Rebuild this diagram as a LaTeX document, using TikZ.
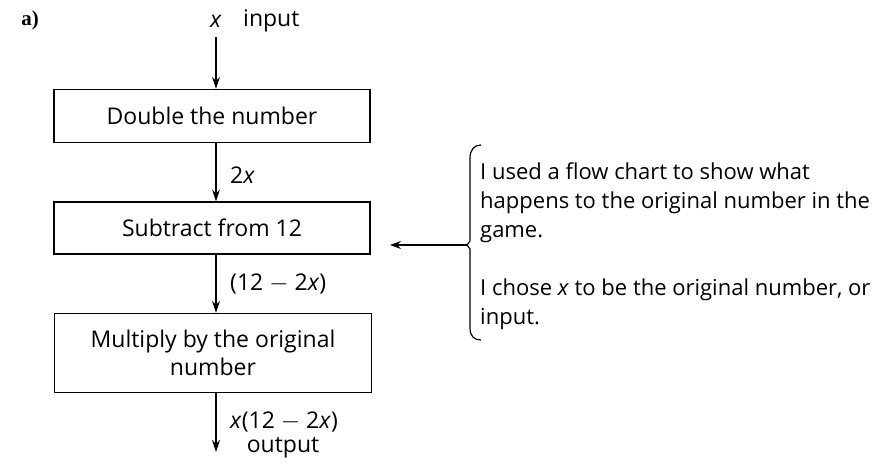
\documentclass[tikz,border=0pt]{standalone}
\usepackage{fontspec}
\setmainfont{Open Sans}
\newfontfamily\partfont{Liberation Serif}
\usetikzlibrary{arrows.meta}

\tikzset{
  stepbox/.style={draw, line width=1.3pt, inner sep=0pt, align=center,
    font=\fontsize{23}{28}\selectfont},
  flow/.style={line width=1.3pt, -{Stealth[length=12pt,width=8pt,inset=4pt]}},
  lbl/.style={inner sep=0pt, font=\fontsize{23}{25}\selectfont},
  note/.style={inner sep=0pt, align=left, font=\fontsize{22}{29}\selectfont},
}

\begin{document}
\begin{tikzpicture}[x=1pt,y=1pt,yscale=-1,xscale=1]
\useasboundingbox (0,0) rectangle (880,465);

% Text Node
\node (part) [inner sep=0pt, font=\partfont\bfseries\fontsize{21}{25}\selectfont] at (30,20) {a)};

% Text Node
\node (inx) [lbl] at (216,21) {\textit{x}};
\node (inlbl) [lbl, anchor=west] at (243,21) {input};
\coordinate (instart) at (216,37);

%Shape: Rectangle
\node (dbl) [stepbox, minimum width=316pt, minimum height=53pt] at (212,116) {Double the number};
%Shape: Rectangle
\node (sub) [stepbox, minimum width=316pt, minimum height=52pt] at (212,228) {Subtract from 12};
%Shape: Rectangle
\node (mul) [stepbox, minimum width=317pt, minimum height=79pt] at (213,353) {Multiply by the original\\number};

\coordinate (out) at (216,452);

%Straight Lines
\draw [flow] (instart) -- ([xshift=4pt]dbl.north);
\draw [flow] ([xshift=4pt]dbl.south) -- ([xshift=4pt]sub.north);
\draw [flow] ([xshift=4pt]sub.south) -- ([xshift=3pt]mul.north);
\draw [flow] ([xshift=3pt]mul.south) -- (out);

% Text Node
\node (twox) [lbl, anchor=west] at (230,175) {2\textit{x}};
% Text Node
\node (diff) [lbl, anchor=west] at (230,284) {(12 $-$ 2\textit{x})};
% Text Node
\node (prod) [lbl, anchor=west] at (230,422) {\textit{x}(12 $-$ 2\textit{x})};
% Text Node
\node (outlbl) [lbl] at (283,448) {output};

%Shape: Bracket
\coordinate (notch) at (467,245);
\coordinate (tip) at (390,245);
\draw [line width=1.2pt] (481,145) .. controls (474,145) and (470,150) .. (470,158) -- (470,241) -- (notch) -- (470,249) -- (470,328) .. controls (470,336) and (474,340) .. (481,340);
\draw [line width=1.1pt, -{Stealth[length=11pt,width=8pt,inset=4pt]}] (notch) -- (tip);

% Text Node
\node (why) [note, anchor=north west] at (480,162) {I used a flow chart to show what\\happens to the original number in the\\game.\\[29pt]I chose \textit{x} to be the original number, or\\input.};

\end{tikzpicture}
\end{document}
